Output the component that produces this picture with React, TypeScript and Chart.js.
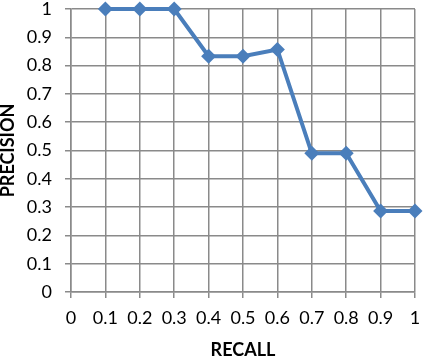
import React, { useEffect, useRef } from "react";
import { Chart, registerables } from "chart.js";

Chart.register(...registerables);

const recall = [0.1, 0.2, 0.3, 0.4, 0.5, 0.6, 0.7, 0.8, 0.9, 1.0];
const precision = [1, 1, 1, 0.833, 0.833, 0.857, 0.49, 0.49, 0.286, 0.286];
const xTitle = "RECALL";
const yTitle = "PRECISION";

const FONT = "Lato, 'Open Sans', sans-serif";

const fmt = (v: any) => String(Math.round(Number(v) * 10) / 10);

export default function App() {
  const ref = useRef<HTMLCanvasElement | null>(null);
  useEffect(() => {
    if (!ref.current) return;
    const gridColor = "#8a8a8a";
    const chart = new Chart(ref.current, {
      type: "line",
      data: {
        datasets: [
          {
            data: recall.map((r, i) => ({ x: r, y: precision[i] })),
            borderColor: "#4a7ebb",
            backgroundColor: "#4a7ebb",
            borderWidth: 4,
            pointStyle: "rectRot",
            pointRadius: 7.5,
            pointBorderWidth: 0,
            tension: 0,
            clip: false as any,
          },
        ],
      },
      options: {
        responsive: false,
        animation: false,
        layout: { padding: { top: 9, right: 9, left: 0, bottom: 0 } },
        plugins: { legend: { display: false }, tooltip: { enabled: false } },
        scales: {
          x: {
            type: "linear",
            min: 0,
            max: 1,
            ticks: {
              stepSize: 0.1,
              color: "#000",
              font: { family: FONT, size: 18 },
              padding: 9,
              maxRotation: 0,
              autoSkip: false,
              callback: fmt,
            },
            grid: { color: gridColor, lineWidth: 1.5, tickLength: 6, tickColor: gridColor },
            border: { color: gridColor, width: 1.5 },
            title: {
              display: true,
              text: xTitle,
              color: "#000",
              font: { family: FONT, size: 18, weight: "bold" },
              padding: { top: 0, bottom: -3 },
            },
            afterFit: (s: any) => {
              s.height = 66;
              s.paddingLeft = 0;
              s.paddingRight = 0;
            },
          },
          y: {
            type: "linear",
            min: 0,
            max: 1,
            ticks: {
              stepSize: 0.1,
              color: "#000",
              font: { family: FONT, size: 18 },
              padding: 13,
              callback: fmt,
            },
            grid: { color: gridColor, lineWidth: 1.5, tickLength: 6, tickColor: gridColor },
            border: { color: gridColor, width: 1.5 },
            title: {
              display: true,
              text: yTitle,
              color: "#000",
              font: { family: FONT, size: 18, weight: "bold" },
              padding: { top: -3, bottom: 0 },
            },
            afterFit: (s: any) => {
              s.width = 71;
              s.paddingTop = 0;
              s.paddingBottom = 0;
            },
          },
        },
      },
    });
    return () => chart.destroy();
  }, []);
  return (
    <div style={{ position: "absolute", left: 0, top: 0, width: 424, height: 358, background: "#fff" }}>
      <canvas ref={ref} width={424} height={358} />
    </div>
  );
}
